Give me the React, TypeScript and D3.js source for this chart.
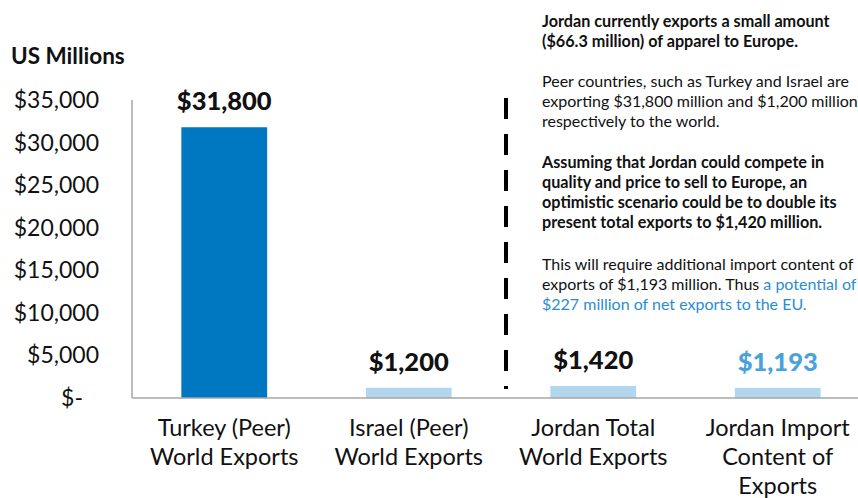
import React, { useEffect, useRef } from "react";
import * as d3 from "d3";

// chart data
const categories: string[][] = [
  ["Turkey (Peer)", "World Exports"],
  ["Israel (Peer)", "World Exports"],
  ["Jordan Total", "World Exports"],
  ["Jordan Import", "Content of", "Exports"],
];
const values: number[] = [31800, 1200, 1420, 1193];
const valueLabels: string[] = ["$31,800", "$1,200", "$1,420", "$1,193"];
const tickValues: number[] = [0, 5000, 10000, 15000, 20000, 25000, 30000, 35000];

// side notes (each line is one row of text)
const notes: { text: { t: string; blue?: boolean }[]; bold: boolean }[][] = [
  [
    { text: [{ t: "Jordan currently exports a small amount" }], bold: true },
    { text: [{ t: "($66.3 million) of apparel to Europe." }], bold: true },
  ],
  [
    { text: [{ t: "Peer countries, such as Turkey and Israel are" }], bold: false },
    { text: [{ t: "exporting $31,800 million and $1,200 million" }], bold: false },
    { text: [{ t: "respectively to the world." }], bold: false },
  ],
  [
    { text: [{ t: "Assuming that Jordan could compete in" }], bold: true },
    { text: [{ t: "quality and price to sell to Europe, an" }], bold: true },
    { text: [{ t: "optimistic scenario could be to double its" }], bold: true },
    { text: [{ t: "present total exports to $1,420 million." }], bold: true },
  ],
  [
    { text: [{ t: "This will require additional import content of" }], bold: false },
    {
      text: [{ t: "exports of $1,193 million. Thus " }, { t: "a potential of", blue: true }],
      bold: false,
    },
    { text: [{ t: "$227 million of net exports to the EU.", blue: true }], bold: false },
  ],
];

const width = 858;
const height = 498;
const margin = { top: 100, right: -12, bottom: 100, left: 132 };
const font = "Lato, 'Open Sans', sans-serif";

const App = () => {
  const ref = useRef<SVGSVGElement>(null);

  useEffect(() => {
    const svg = d3.select(ref.current);
    svg.selectAll("*").remove();

    const x = d3
      .scaleBand<number>()
      .domain(values.map((_, i) => i))
      .range([margin.left, width - margin.right])
      .paddingInner(0.535)
      .paddingOuter(0.2675);
    const y = d3
      .scaleLinear()
      .domain([0, 35000])
      .range([height - margin.bottom, margin.top]);

    const fmt = d3.format(",");

    // y tick labels
    svg
      .append("g")
      .selectAll("text")
      .data(tickValues)
      .enter()
      .append("text")
      .attr("x", (d) => (d === 0 ? 83 : 99))
      .attr("y", (d) => y(d))
      .attr("dy", "0.35em")
      .attr("text-anchor", "end")
      .attr("font-family", font)
      .attr("font-size", 23)
      .attr("fill", "#111")
      .text((d) => (d === 0 ? "$-" : "$" + fmt(d)));

    svg
      .append("text")
      .attr("x", 11)
      .attr("y", 64)
      .attr("font-family", font)
      .attr("font-weight", "bold")
      .attr("font-size", 22.5)
      .attr("fill", "#111")
      .text("US Millions");

    // bars
    svg
      .append("g")
      .selectAll("rect")
      .data(values)
      .enter()
      .append("rect")
      .attr("x", (_, i) => x(i)!)
      .attr("y", (d) => y(d))
      .attr("width", x.bandwidth())
      .attr("height", (d) => y(0) - y(d))
      .attr("fill", (_, i) => (i === 0 ? "#0077C1" : "#B1D6EE"));

    // axes lines
    svg
      .append("line")
      .attr("x1", margin.left)
      .attr("x2", margin.left)
      .attr("y1", y(35000))
      .attr("y2", y(0))
      .attr("stroke", "#a6a6a6")
      .attr("stroke-width", 1.5);
    svg
      .append("line")
      .attr("x1", margin.left)
      .attr("x2", width)
      .attr("y1", y(0))
      .attr("y2", y(0))
      .attr("stroke", "#a6a6a6")
      .attr("stroke-width", 1.5);

    // value labels
    svg
      .append("g")
      .selectAll("text")
      .data(values)
      .enter()
      .append("text")
      .attr("x", (_, i) => x(i)! + x.bandwidth() / 2)
      .attr("y", (d) => y(d) - 17)
      .attr("text-anchor", "middle")
      .attr("font-family", font)
      .attr("font-weight", 900)
      .attr("font-size", 25.5)
      .attr("fill", (_, i) => (i === 3 ? "#4AA2DB" : "#111"))
      .text((_, i) => valueLabels[i]);

    // category labels
    const cat = svg
      .append("g")
      .selectAll("text")
      .data(categories)
      .enter()
      .append("text")
      .attr("x", (_, i) => x(i)! + x.bandwidth() / 2)
      .attr("y", y(0) + 38)
      .attr("text-anchor", "middle")
      .attr("font-family", font)
      .attr("font-size", 23.5)
      .attr("fill", "#111");
    cat
      .selectAll("tspan")
      .data((d) => d)
      .enter()
      .append("tspan")
      .attr("x", function () {
        return (this.parentNode as SVGTextElement).getAttribute("x");
      })
      .attr("dy", (_, j) => (j === 0 ? 0 : 29))
      .text((d) => d);

    // dashed separator between peers and Jordan
    const sepX = (x(1)! + x.bandwidth() + x(2)!) / 2 + 5;
    svg
      .append("line")
      .attr("x1", sepX)
      .attr("x2", sepX)
      .attr("y1", 98)
      .attr("y2", y(0) - 9)
      .attr("stroke", "#000")
      .attr("stroke-width", 4)
      .attr("stroke-dasharray", "21,15");

    // side notes
    const paraStart = [27, 87, 168, 270];
    const noteG = svg.append("g").attr("font-family", font).attr("fill", "#111");
    notes.forEach((para, p) => {
      para.forEach((line, l) => {
        const t = noteG
          .append("text")
          .attr("x", 542)
          .attr("y", paraStart[p] + l * 20)
          .attr("font-size", line.bold ? 16.2 : 16)
          .attr("font-weight", line.bold ? "bold" : "normal");
        line.text.forEach((seg) => {
          t.append("tspan")
            .attr("fill", seg.blue ? "#2B8DCF" : "#111")
            .text(seg.t);
        });
      });
    });
  }, []);

  return (
    <svg
      ref={ref}
      width={width}
      height={height}
      style={{ position: "absolute", left: 0, top: 0, background: "#fff" }}
    />
  );
};

export default App;
